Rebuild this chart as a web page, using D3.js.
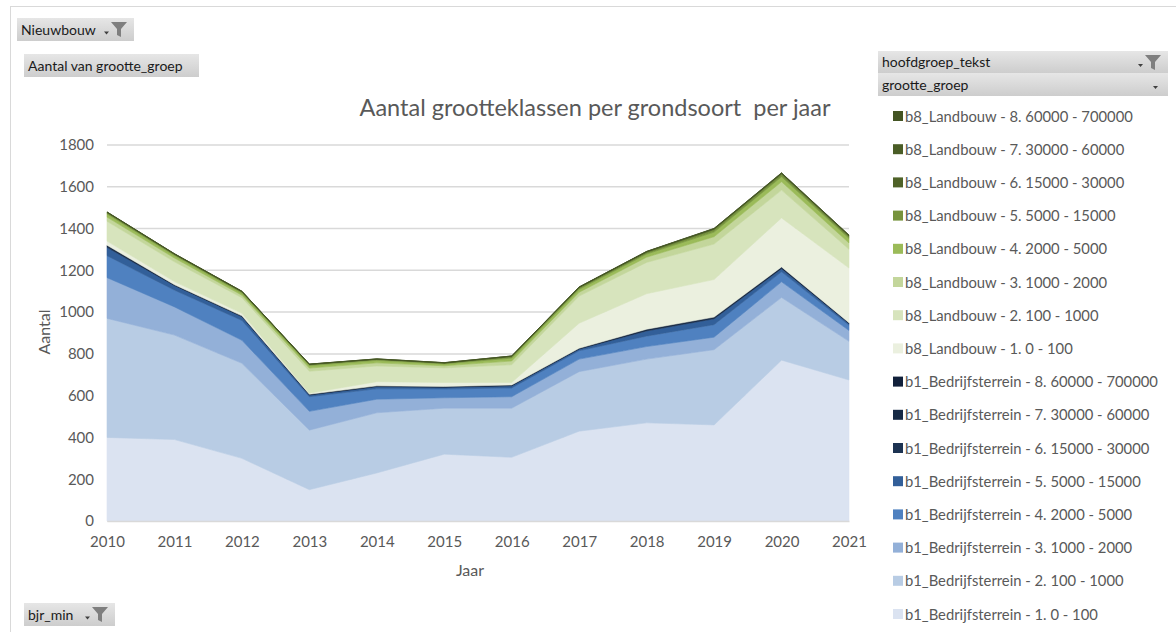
<!DOCTYPE html>
<html>
<head>
<meta charset="utf-8">
<script src="https://cdn.jsdelivr.net/npm/d3@7"></script>
<style>
  body { margin: 0; background: #fff; }
  svg text { font-family: Lato, "Liberation Sans", sans-serif; }
</style>
</head>
<body>
<div id="chart"></div>
<script>
// data (counts per year, stacked)
var years = [2010, 2011, 2012, 2013, 2014, 2015, 2016, 2017, 2018, 2019, 2020, 2021];
var yTicks = [0, 200, 400, 600, 800, 1000, 1200, 1400, 1600, 1800];

var b1_1 = [400, 390, 300, 150, 230, 320, 305, 430, 470, 460, 770, 675];
var b1_2 = [570, 500, 455, 285, 288, 220, 235, 285, 305, 360, 300, 185];
var b1_3 = [195, 135, 110, 90, 65, 50, 55, 60, 60, 60, 75, 52];
var b1_4 = [105, 80, 95, 70, 50, 42, 42, 40, 50, 60, 48, 25];
var b1_5 = [40, 22, 18, 8, 10, 8, 10, 8, 25, 28, 15, 8];
var b1_6 = [5, 2, 2, 2, 2, 2, 2, 2, 4, 4, 4, 2];
var b1_7 = [3, 1, 1, 1, 1, 1, 1, 1, 2, 2, 2, 1];
var b1_8 = [2, 1, 1, 1, 1, 1, 1, 1, 2, 2, 2, 1];
var b8_1 = [20, 15, 12, 5, 20, 19, 12, 120, 170, 180, 235, 262];
var b8_2 = [95, 95, 75, 105, 75, 70, 85, 130, 150, 170, 133, 90];
var b8_3 = [20, 18, 12, 15, 15, 10, 18, 18, 25, 35, 40, 30];
var b8_4 = [15, 12, 10, 12, 12, 9, 14, 14, 15, 22, 24, 22];
var b8_5 = [7, 6, 6, 5, 5, 4, 7, 8, 8, 12, 12, 10];
var b8_6 = [1, 1, 2, 1, 1, 1, 2, 2, 3, 3, 4, 3];
var b8_7 = [1, 1, 1, 1, 1, 1, 1, 1, 1, 2, 2, 2];
var b8_8 = [1, 1, 0, 0, 0, 0, 0, 1, 1, 1, 1, 1];

var seriesNames = [
  "b1_Bedrijfsterrein - 1. 0 - 100",
  "b1_Bedrijfsterrein - 2. 100 - 1000",
  "b1_Bedrijfsterrein - 3. 1000 - 2000",
  "b1_Bedrijfsterrein - 4. 2000 - 5000",
  "b1_Bedrijfsterrein - 5. 5000 - 15000",
  "b1_Bedrijfsterrein - 6. 15000 - 30000",
  "b1_Bedrijfsterrein - 7. 30000 - 60000",
  "b1_Bedrijfsterrein - 8. 60000 - 700000",
  "b8_Landbouw - 1. 0 - 100",
  "b8_Landbouw - 2. 100 - 1000",
  "b8_Landbouw - 3. 1000 - 2000",
  "b8_Landbouw - 4. 2000 - 5000",
  "b8_Landbouw - 5. 5000 - 15000",
  "b8_Landbouw - 6. 15000 - 30000",
  "b8_Landbouw - 7. 30000 - 60000",
  "b8_Landbouw - 8. 60000 - 700000"
];
var seriesValues = [b1_1, b1_2, b1_3, b1_4, b1_5, b1_6, b1_7, b1_8,
                    b8_1, b8_2, b8_3, b8_4, b8_5, b8_6, b8_7, b8_8];
var colors = ["#dbe3f1", "#b8cce4", "#93b0d8", "#4f81c0", "#325f99", "#1d3352", "#172a45", "#11203a",
              "#ebf0df", "#d7e4bd", "#c3d69b", "#9bbb59", "#76933c", "#4f6228", "#4a5d26", "#435423"];

var width = 1176, height = 632;
var margin = {left: 107, right: 327, top: 145, bottom: 111};

var rows = years.map(function(y, i) {
  var r = {year: y};
  seriesNames.forEach(function(n, k) { r[n] = seriesValues[k][i]; });
  return r;
});

var svg = d3.select("#chart").append("svg")
  .attr("width", width).attr("height", height);

var defs = svg.append("defs");
var grad = defs.append("linearGradient").attr("id", "btn").attr("x1", 0).attr("y1", 0).attr("x2", 0).attr("y2", 1);
grad.append("stop").attr("offset", "0%").attr("stop-color", "#e6e6e6");
grad.append("stop").attr("offset", "100%").attr("stop-color", "#cdcdcd");

// outer chart border
svg.append("rect").attr("x", 10.5).attr("y", 6.5).attr("width", 1180).attr("height", 640)
  .style("fill", "none").style("stroke", "#d9d9d9");

var x = d3.scaleLinear().domain([2010, 2021]).range([margin.left, width - margin.right]);
var y = d3.scaleLinear().domain([0, 1800]).range([height - margin.bottom, margin.top]);

// gridlines
svg.append("g").selectAll("line").data(yTicks).enter().append("line")
  .attr("x1", x(2010)).attr("x2", x(2021))
  .attr("y1", d => y(d)).attr("y2", d => y(d))
  .style("stroke", "#d9d9d9").style("stroke-width", 1.5);

var stack = d3.stack().keys(seriesNames);
var layers = stack(rows);

var area = d3.area()
  .x(d => x(d.data.year))
  .y0(d => y(d[0]))
  .y1(d => y(d[1]));

svg.append("g").selectAll("path").data(layers).enter().append("path")
  .attr("d", area)
  .style("fill", (d, i) => colors[i])
  .style("stroke", (d, i) => colors[i])
  .style("stroke-width", 0.6);

// axes
var yAxis = d3.axisLeft(y).tickValues(yTicks).tickFormat(d3.format("d")).tickSize(0).tickPadding(13);
var gy = svg.append("g").attr("transform", "translate(" + margin.left + ",0)").call(yAxis);
gy.select(".domain").remove();
gy.selectAll("text").style("font-size", "15px").style("fill", "#595959");

var xAxis = d3.axisBottom(x).tickValues(years).tickFormat(d3.format("d")).tickSize(0).tickPadding(15);
var gx = svg.append("g").attr("transform", "translate(0," + (height - margin.bottom) + ")").call(xAxis);
gx.select(".domain").style("stroke", "#d9d9d9").style("stroke-width", 1.5);
gx.selectAll("text").style("font-size", "15px").style("fill", "#595959");

svg.append("text").attr("x", 470).attr("y", 576).attr("text-anchor", "middle")
  .style("font-size", "16px").style("fill", "#595959").text("Jaar");
svg.append("text").attr("transform", "translate(50,332) rotate(-90)").attr("text-anchor", "middle")
  .style("font-size", "16px").style("fill", "#595959").text("Aantal");

svg.append("text").attr("x", 595).attr("y", 116).attr("text-anchor", "middle")
  .style("font-size", "23.5px").style("fill", "#595959")
  .text("Aantal grootteklassen per grondsoort\u00a0 per jaar");

// legend, top entry is the last series
var legend = svg.append("g").selectAll("g").data(seriesNames.slice().reverse()).enter().append("g")
  .attr("transform", (d, i) => "translate(893," + (116 + i * 33.2) + ")");
legend.append("rect").attr("x", 0).attr("y", -5).attr("width", 10).attr("height", 10)
  .style("fill", d => colors[seriesNames.indexOf(d)]);
legend.append("text").attr("x", 12).attr("y", 5.5)
  .style("font-size", "14.8px").style("fill", "#595959").text(d => d);

// field buttons
function funnel(g, fx, fy) {
  g.append("path")
    .attr("d", "M" + fx + "," + fy + "h16l-6,7v8l-4,-2v-6z")
    .style("fill", "#7f7f7f");
}
function arrow(g, ax, ay) {
  g.append("path").attr("d", "M" + ax + "," + ay + "h5l-2.5,3z").style("fill", "#404040");
}
function button(bx, by, bw, bh, label, withFilter) {
  var g = svg.append("g");
  g.append("rect").attr("x", bx).attr("y", by).attr("width", bw).attr("height", bh).style("fill", "url(#btn)");
  g.append("text").attr("x", bx + 4).attr("y", by + bh / 2 + 5)
    .style("font-size", "14px").style("fill", "#1a1a1a").text(label);
  if (withFilter) {
    arrow(g, bx + bw - 30, by + bh / 2 + 2);
    funnel(g, bx + bw - 23, by + 4);
  }
  return g;
}
button(17, 18, 117, 23, "Nieuwbouw", true);
button(24, 54, 175, 23, "Aantal van grootte_groep", false);
button(24, 603, 91, 23, "bjr_min", true);
button(878, 51, 290, 22, "hoofdgroep_tekst", true);
var gg = button(878, 73, 290, 23, "grootte_groep", false);
arrow(gg, 1153, 86);
</script>
</body>
</html>
